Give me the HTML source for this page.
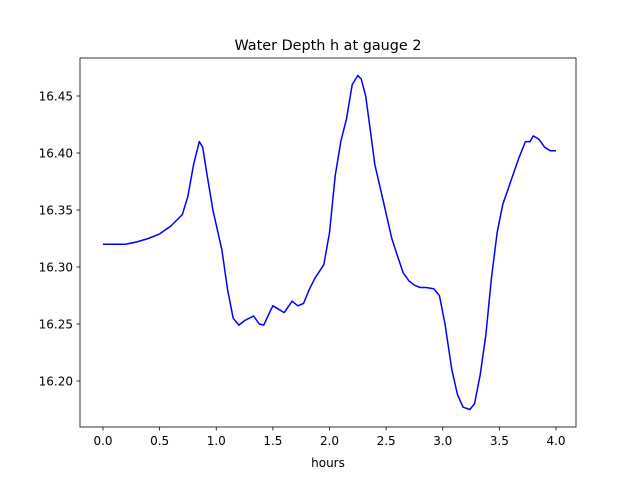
<!DOCTYPE html>
<html><head><meta charset="utf-8"><style>
body{margin:0;background:#fff;}
svg text{font-family:"DejaVu Sans","Liberation Sans",sans-serif;}
</style></head><body>
<svg id="chart" width="640" height="480" xmlns="http://www.w3.org/2000/svg">
<rect width="640" height="480" fill="#fff"/>
<text x="328" y="50" text-anchor="middle" font-size="14.4">Water Depth h at gauge 2</text>
<g id="ticks"></g>
<path id="line" fill="none" stroke="#0000ff" stroke-width="1.5" stroke-linejoin="round"/>
<rect x="80" y="58" width="496" height="369" fill="none" stroke="#000" stroke-width="0.8"/>
<text x="328" y="467" text-anchor="middle" font-size="12">hours</text>
</svg>
<script>
const hours=[0,0.2,0.3,0.4,0.5,0.6,0.7,0.75,0.8,0.85,0.88,0.92,0.97,1.05,1.1,1.15,1.2,1.25,1.33,1.38,1.42,1.47,1.5,1.55,1.6,1.67,1.72,1.77,1.82,1.87,1.95,2.0,2.05,2.1,2.15,2.2,2.25,2.28,2.32,2.36,2.4,2.47,2.55,2.6,2.65,2.7,2.75,2.8,2.85,2.92,2.97,3.02,3.08,3.13,3.18,3.24,3.28,3.33,3.38,3.43,3.48,3.53,3.6,3.67,3.73,3.77,3.8,3.85,3.9,3.95,4.0];
const depth=[16.32,16.32,16.322,16.325,16.329,16.336,16.346,16.362,16.39,16.41,16.405,16.38,16.35,16.315,16.28,16.255,16.249,16.253,16.257,16.25,16.249,16.26,16.266,16.263,16.26,16.27,16.266,16.268,16.28,16.29,16.302,16.33,16.38,16.41,16.43,16.46,16.468,16.465,16.45,16.42,16.39,16.36,16.325,16.31,16.295,16.288,16.284,16.282,16.282,16.281,16.275,16.25,16.21,16.188,16.177,16.175,16.18,16.205,16.24,16.29,16.33,16.355,16.375,16.395,16.41,16.41,16.415,16.412,16.405,16.402,16.402];
const xTicks=[0,0.5,1,1.5,2,2.5,3,3.5,4];
const yTicks=[16.20,16.25,16.30,16.35,16.40,16.45];
const xs=h=>103+h*113.25;
const ys=v=>96+(16.45-v)*1140;
document.getElementById('line').setAttribute('d',hours.map((h,i)=>(i?'L':'M')+xs(h).toFixed(1)+','+ys(depth[i]).toFixed(1)).join(''));
const g=document.getElementById('ticks');const NS='http://www.w3.org/2000/svg';
xTicks.forEach(t=>{const x=xs(t);
const l=document.createElementNS(NS,'line');


l.setAttribute('x1',x);l.setAttribute('x2',x);l.setAttribute('y1',427);l.setAttribute('y2',430.5);l.setAttribute('stroke','#000');l.setAttribute('stroke-width','0.8');g.appendChild(l);
const tx=document.createElementNS(NS,'text');


tx.setAttribute('x',x);tx.setAttribute('y',445);tx.setAttribute('text-anchor','middle');tx.setAttribute('font-size','12');tx.textContent=t.toFixed(1);g.appendChild(tx);});
yTicks.forEach(t=>{const y=ys(t);
const l=document.createElementNS(NS,'line');


l.setAttribute('x1',76.5);l.setAttribute('x2',80);l.setAttribute('y1',y);l.setAttribute('y2',y);l.setAttribute('stroke','#000');l.setAttribute('stroke-width','0.8');g.appendChild(l);
const tx=document.createElementNS(NS,'text');


tx.setAttribute('x',73);tx.setAttribute('y',y+4.5);tx.setAttribute('text-anchor','end');tx.setAttribute('font-size','12');tx.textContent=t.toFixed(2);g.appendChild(tx);});
</script>
</body></html>
